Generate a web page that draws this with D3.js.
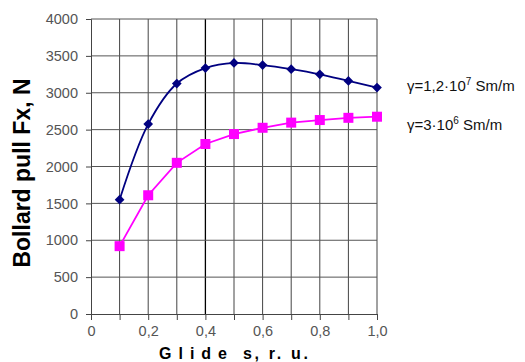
<!DOCTYPE html>
<html>
<head>
<meta charset="utf-8">
<script src="https://cdn.jsdelivr.net/npm/d3@7"></script>
<style>
  body { margin: 0; background: #fff; }
  svg { font-family: Arial, "Liberation Sans", sans-serif; }
</style>
</head>
<body>
<div id="chart"></div>
<script>
// slide values and both series
const glide = [0.1, 0.2, 0.3, 0.4, 0.5, 0.6, 0.7, 0.8, 0.9, 1.0];
const pullHigh = [1550, 2575, 3125, 3335, 3405, 3375, 3320, 3250, 3160, 3070];
const pullLow = [920, 1610, 2050, 2305, 2440, 2525, 2595, 2630, 2660, 2675];
const xTicks = [0, 0.2, 0.4, 0.6, 0.8, 1.0];
const yTicks = [0, 500, 1000, 1500, 2000, 2500, 3000, 3500, 4000];

const W = 525, H = 362;
const margin = { top: 19, right: 148, bottom: 48, left: 91 };
const width = W - margin.left - margin.right;
const height = H - margin.top - margin.bottom;

const svg = d3.select('#chart').append('svg')
  .attr('width', W)
  .attr('height', H);

const chart = svg.append('g')
  .attr('transform', `translate(${margin.left}, ${margin.top})`);

const x = d3.scaleLinear().domain([0, 1]).range([0, width]);
const y = d3.scaleLinear().domain([0, 4000]).range([height, 0]);

const fmt = d => d === 0 ? '0' : d3.format('.1f')(d).replace('.', ',');

// grid
chart.append('g')
  .selectAll('line')
  .data(d3.range(1, 11).map(i => i / 10))
  .enter().append('line')
  .attr('x1', d => x(d)).attr('x2', d => x(d))
  .attr('y1', 0).attr('y2', height)
  .attr('stroke', (d, i) => i === 3 ? '#000' : '#444')
  .attr('stroke-width', (d, i) => i === 3 ? 1.3 : 1);

chart.append('g')
  .selectAll('line')
  .data(yTicks.slice(1))
  .enter().append('line')
  .attr('x1', 0).attr('x2', width)
  .attr('y1', d => y(d)).attr('y2', d => y(d))
  .attr('stroke', '#555')
  .attr('stroke-width', 1);

// axes
const yAxis = chart.append('g')
  .call(d3.axisLeft(y).tickValues(yTicks).tickSize(5).tickPadding(8).tickFormat(d3.format('d')));
const xAxis = chart.append('g')
  .attr('transform', `translate(0, ${height})`)
  .call(d3.axisBottom(x).tickValues(d3.range(0, 11).map(i => i / 10)).tickSize(6).tickPadding(6)
    .tickFormat(d => xTicks.some(t => Math.abs(t - d) < 1e-9) ? fmt(d) : ''));

[yAxis, xAxis].forEach(a => {
  a.select('.domain').attr('stroke', '#444');
  a.selectAll('.tick line').attr('stroke', '#444');
  a.selectAll('text').attr('fill', '#555').style('font-size', '14.5px');
});

// lines
const smooth = d3.line().x((d, i) => x(glide[i])).y(d => y(d)).curve(d3.curveCatmullRom.alpha(0.5));
const straight = d3.line().x((d, i) => x(glide[i])).y(d => y(d));

chart.append('path')
  .datum(pullLow)
  .attr('d', straight)
  .attr('fill', 'none')
  .attr('stroke', '#ff00ff')
  .attr('stroke-width', 1.8);

chart.append('path')
  .datum(pullHigh)
  .attr('d', smooth)
  .attr('fill', 'none')
  .attr('stroke', '#000080')
  .attr('stroke-width', 1.8);

chart.selectAll('rect.low')
  .data(pullLow)
  .enter().append('rect')
  .attr('class', 'low')
  .attr('x', (d, i) => x(glide[i]) - 5)
  .attr('y', d => y(d) - 5)
  .attr('width', 10)
  .attr('height', 10)
  .attr('fill', '#ff00ff');

chart.selectAll('path.high')
  .data(pullHigh)
  .enter().append('path')
  .attr('class', 'high')
  .attr('d', d3.symbol().type(d3.symbolDiamond2).size(60))
  .attr('transform', (d, i) => `translate(${x(glide[i])}, ${y(d)})`)
  .attr('fill', '#000080');

// titles
svg.append('text')
  .attr('transform', 'translate(30, 173) rotate(-90)')
  .attr('text-anchor', 'middle')
  .style('font-size', '23px')
  .style('font-weight', 'bold')
  .attr('fill', '#000')
  .text('Bollard pull Fx, N');

const xTitle = svg.append('text')
  .attr('y', 359)
  .style('font-size', '16px')
  .style('font-weight', 'bold')
  .attr('fill', '#000');
xTitle.append('tspan')
  .attr('x', 159)
  .attr('textLength', 68)
  .attr('lengthAdjust', 'spacing')
  .text('Glide');
xTitle.append('tspan')
  .attr('x', 243)
  .attr('textLength', 65)
  .attr('lengthAdjust', 'spacing')
  .text('s, r. u.');

// series labels
const lab1 = svg.append('text').attr('x', 407).attr('y', 91).style('font-size', '15px').attr('fill', '#111');
lab1.append('tspan').text('γ=1,2·10');
lab1.append('tspan').attr('dy', -6).style('font-size', '10px').text('7');
lab1.append('tspan').attr('dy', 6).text(' Sm/m');

const lab2 = svg.append('text').attr('x', 407).attr('y', 130).style('font-size', '15px').attr('fill', '#111');
lab2.append('tspan').text('γ=3·10');
lab2.append('tspan').attr('dy', -6).style('font-size', '10px').text('6');
lab2.append('tspan').attr('dy', 6).text(' Sm/m');
</script>
</body>
</html>
